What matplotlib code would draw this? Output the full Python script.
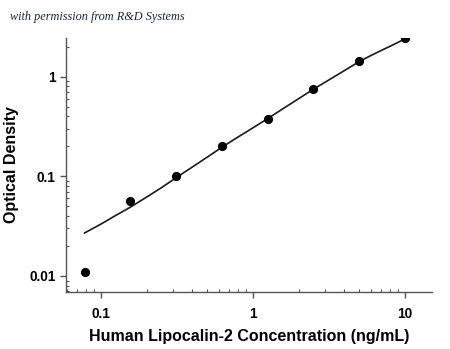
import matplotlib.pyplot as plt
import numpy as np
from matplotlib.ticker import LogLocator, NullFormatter, FixedLocator, FixedFormatter
from matplotlib.transforms import blended_transform_factory

# standard points (ng/mL) and measured OD
conc = [0.078, 0.156, 0.3125, 0.625, 1.25, 2.5, 5, 10]
od = [0.011, 0.056, 0.100, 0.203, 0.377, 0.753, 1.44, 2.45]

# fitted curve
fit_x = [0.078, 0.1, 0.125, 0.156, 0.2, 0.25, 0.3125, 0.45, 0.625, 0.8, 1.0, 1.25,
         1.6, 2.0, 2.5, 3.5, 5, 6, 7, 8.5, 10]
fit_y = [0.027, 0.0332, 0.0405, 0.049, 0.062, 0.077, 0.097, 0.140, 0.196, 0.249, 0.307, 0.38,
         0.485, 0.603, 0.75, 1.02, 1.42, 1.64, 1.84, 2.12, 2.40]

xticks = [0.1, 1, 10]
xlabels = ['0.1', '1', '10']
yticks = [0.01, 0.1, 1]
ylabels = ['0.01', '0.1', '1']

fig = plt.figure(figsize=(4.5, 3.49), dpi=100)
ax = fig.add_axes([0.1467, 0.1633, 0.8133, 0.7278])

ax.plot(fit_x, fit_y, color='#1a1a1a', lw=1.2, zorder=2)
ax.plot(conc, od, 'o', color='black', ms=5.6, zorder=3)

ax.set_xscale('log')
ax.set_yscale('log')
ax.set_xlim(0.0589, 15.07)
ax.set_ylim(0.0069, 2.45)

for s in ['top', 'right']:
    ax.spines[s].set_visible(False)
for s in ['left', 'bottom']:
    ax.spines[s].set_color('#555555')
    ax.spines[s].set_linewidth(1.0)

ax.xaxis.set_major_locator(FixedLocator(xticks))
ax.xaxis.set_major_formatter(FixedFormatter(xlabels))
ax.yaxis.set_major_locator(FixedLocator(yticks))
ax.yaxis.set_major_formatter(FixedFormatter(ylabels))
ax.xaxis.set_minor_locator(LogLocator(base=10, subs=np.arange(2, 10)))
ax.yaxis.set_minor_locator(LogLocator(base=10, subs=np.arange(2, 10)))
ax.xaxis.set_minor_formatter(NullFormatter())
ax.yaxis.set_minor_formatter(NullFormatter())

ax.tick_params(which='major', length=4, width=1, color='#555555', direction='out')
ax.tick_params(which='minor', length=2.2, width=0.8, color='#555555', direction='in')
ax.tick_params(axis='x', which='major', pad=7)
ax.tick_params(axis='y', which='major', pad=3.5)

for lab in ax.get_xticklabels() + ax.get_yticklabels():
    lab.set_fontfamily('Liberation Sans')
    lab.set_fontweight('bold')
    lab.set_fontsize(9.8)

ax.set_xlabel('Human Lipocalin-2 Concentration (ng/mL)', fontfamily='Liberation Sans',
              fontweight='bold', fontsize=11.5)
ax.xaxis.set_label_coords(0.5, (349 - 337) / 349, transform=blended_transform_factory(ax.transAxes, fig.transFigure))
ax.xaxis.label.set_va('center')
ax.set_ylabel('Optical Density', fontfamily='Liberation Sans',
              fontweight='bold', fontsize=11.5)
ax.yaxis.set_label_coords(12 / 450, 0.5, transform=blended_transform_factory(fig.transFigure, ax.transAxes))
ax.yaxis.label.set_va('center')

fig.text(0.022, 0.952, 'with permission from R&D Systems', fontfamily='Liberation Serif',
         style='italic', fontsize=8.8, color='#1c2340', va='center')

fig.savefig('out.png', dpi=100)
